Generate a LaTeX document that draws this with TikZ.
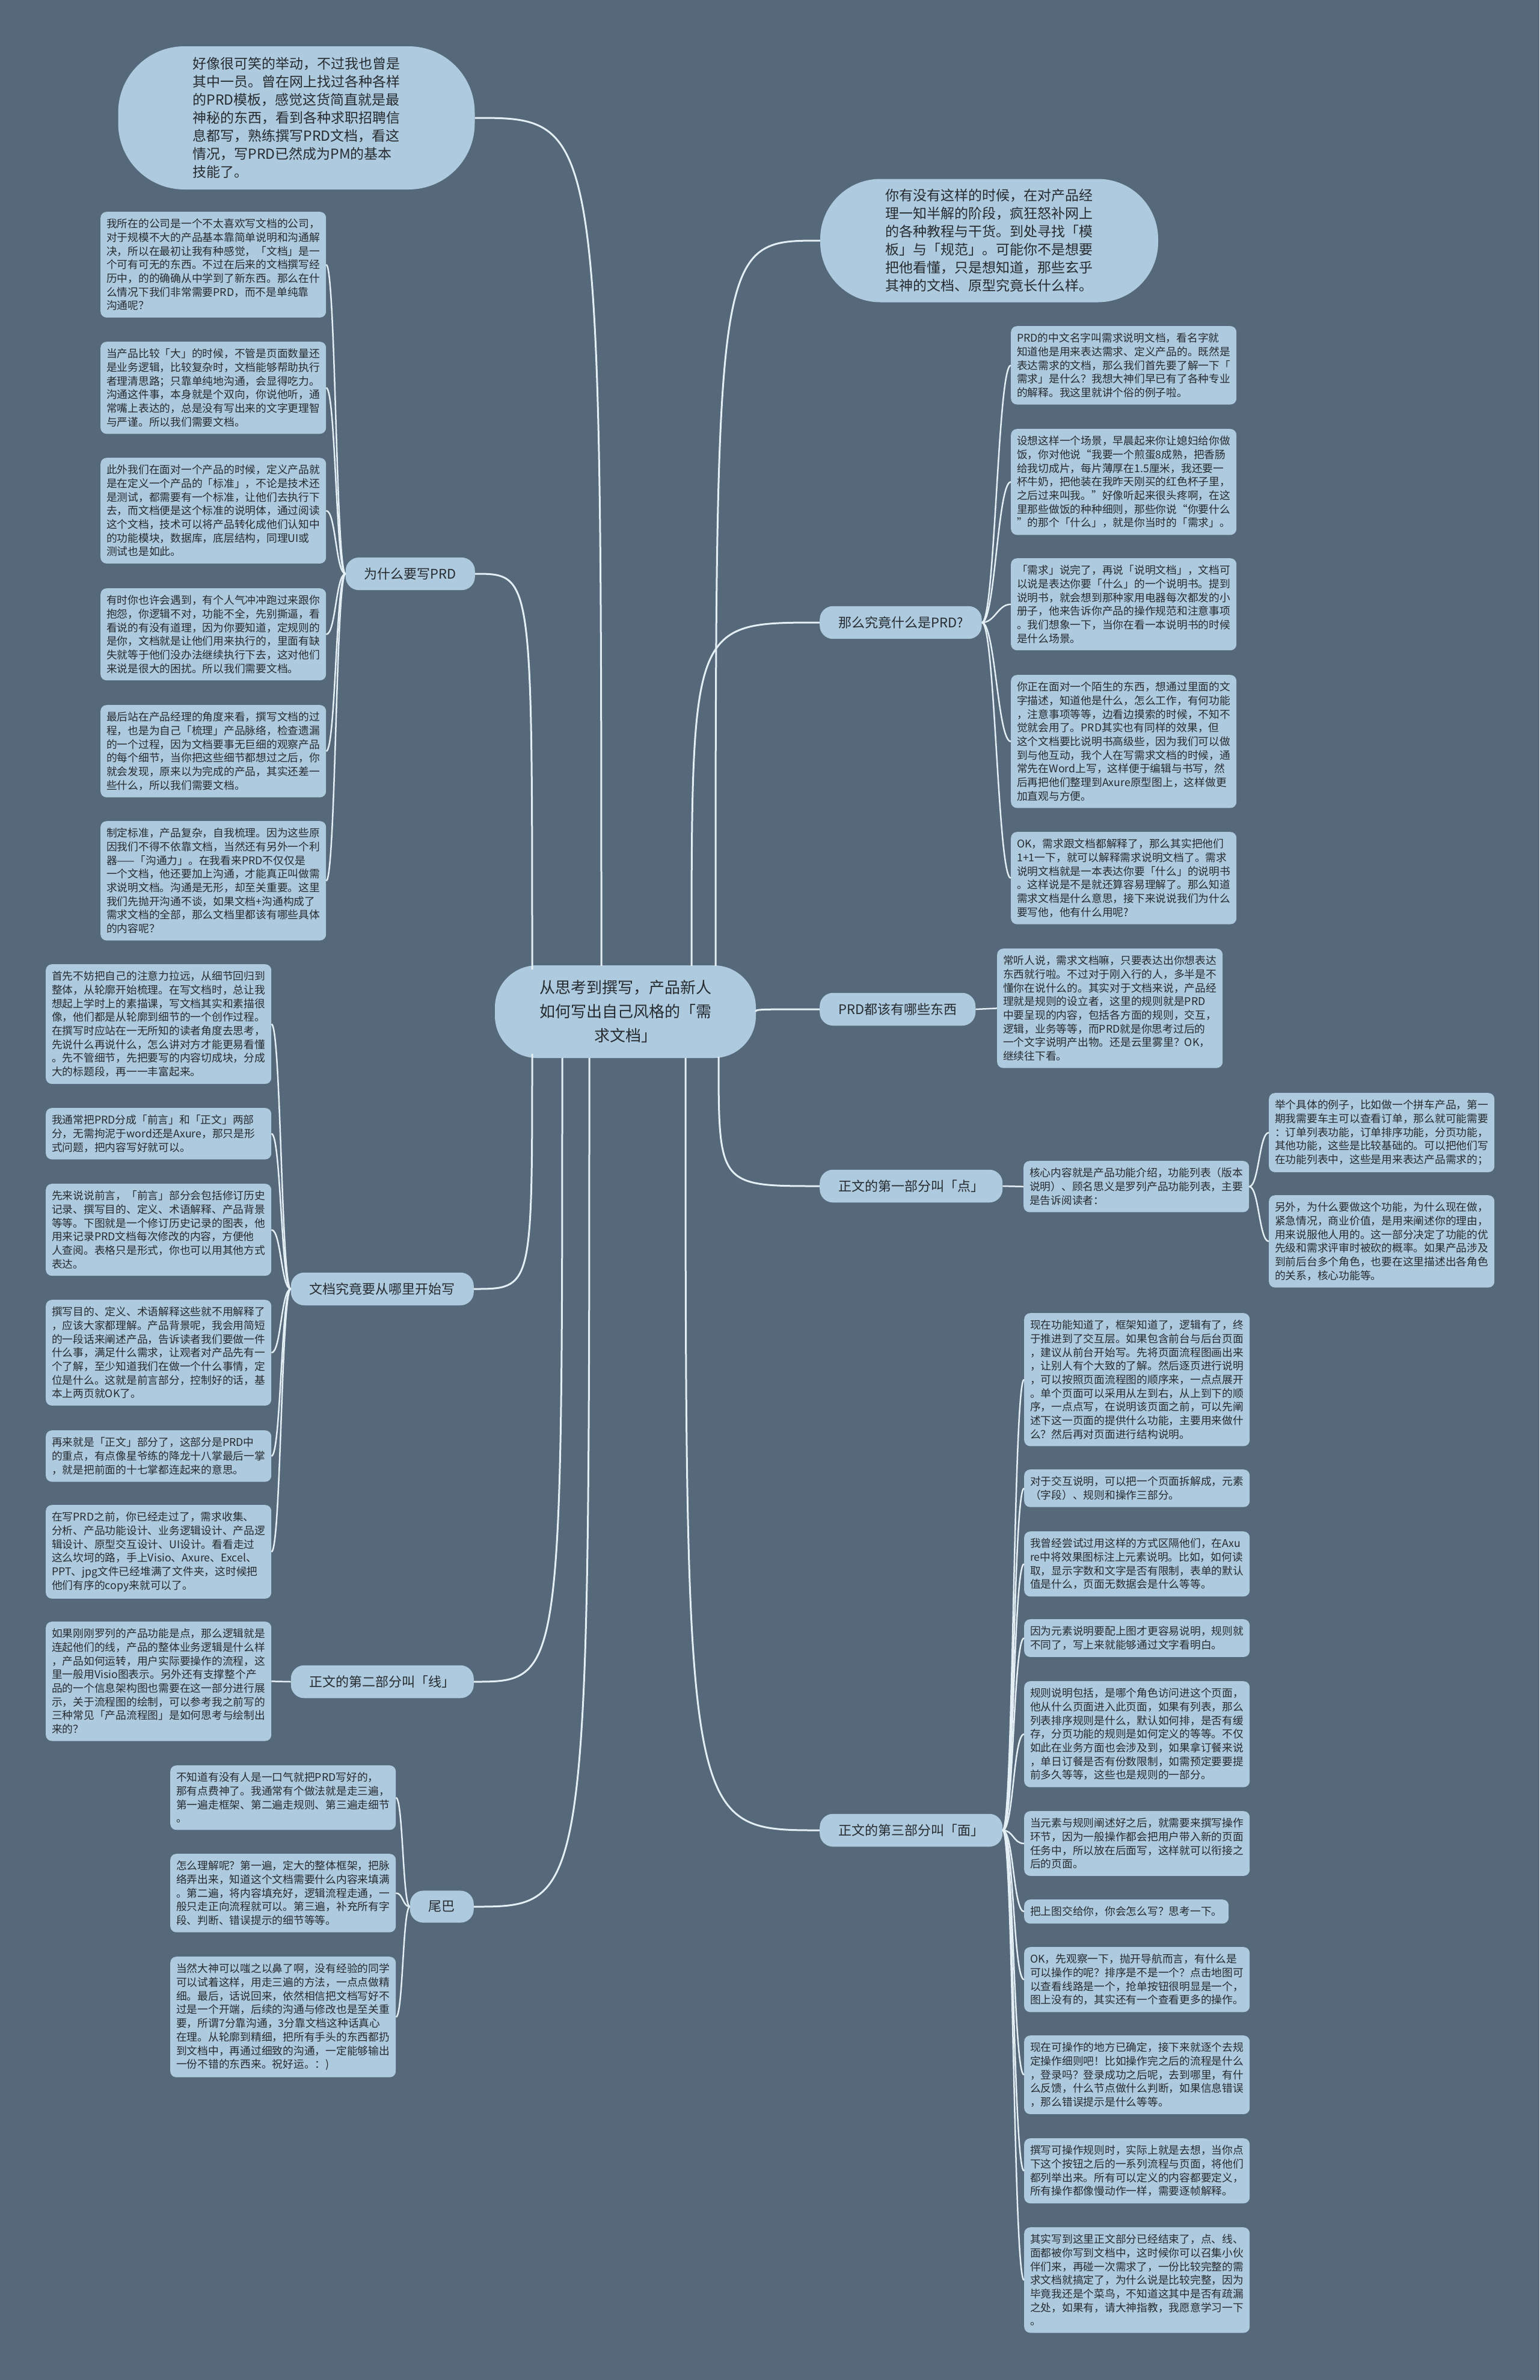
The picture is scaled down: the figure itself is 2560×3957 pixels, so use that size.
\documentclass[tikz,border=0pt]{standalone}
\usepackage{fontspec}
\setmainfont{Noto Sans CJK SC}
\definecolor{bgblue}{HTML}{55697A}
\definecolor{boxblue}{HTML}{AECADF}
\definecolor{linkwhite}{HTML}{E4EEF5}
\definecolor{inkgray}{HTML}{262B30}
\begin{document}
\begin{tikzpicture}[x=1pt,y=-1pt,
      leafbox/.style={fill=boxblue,text=inkgray,rounded corners=10pt,%
        anchor=north west,text width=355pt,align=left,%
        inner xsep=10pt,inner ysep=11.5pt,%
        font=\fontsize{17.75}{22.7}\selectfont},%
      branchbox/.style={fill=boxblue,text=inkgray,rounded corners=22pt,%
        inner xsep=31pt,inner ysep=17pt,font=\fontsize{22}{26}\selectfont},%
      bubblebox/.style={fill=boxblue,text=inkgray,text width=345pt,%
        align=left,font=\fontsize{23}{30}\selectfont},%
      rootbox/.style={fill=boxblue,text=inkgray,rounded corners=70pt,%
        minimum width=434pt,minimum height=154pt,text width=300pt,%
        align=center,font=\fontsize{26}{40}\selectfont},%
      wire/.style={draw=linkwhite,line width=2.5pt},%
      trunk/.style={draw=linkwhite,line width=3pt},%
      lnkR/.style={to path={.. controls +(#1,0) and +(-#1,0) .. (\tikztotarget)}},%
      lnkL/.style={to path={.. controls +(-#1,0) and +(#1,0) .. (\tikztotarget)}},%
      rlnk/.style={to path={.. controls (\tikztostart |- \tikztotarget)
          and (\tikztostart |- \tikztotarget) .. (\tikztotarget)}}%
      ]
      \useasboundingbox (0,0) rectangle (2560,3957);
      \fill[bgblue] (0,0) rectangle (2560,3957);
      %% create nodes
      \node[rootbox] (root) at (1040,1682) {从思考到撰写，产品新人\\如何写出自己风格的「需\\求文档」};%
      \node[bubblebox,minimum width=593pt,minimum height=238pt,rounded corners=110pt] (bubL) at (493,196)
      {好像很可笑的举动，不过我也曾是\\其中一员。曾在网上找过各种各样\\的PRD模板，感觉这货简直就是最\\神秘的东西，看到各种求职招聘信\\息都写，熟练撰写PRD文档，看这\\情况，写PRD已然成为PM的基本\\技能了。};%
      \node[bubblebox,minimum width=562pt,minimum height=205pt,rounded corners=100pt] (bubR) at (1645,400)
      {你有没有这样的时候，在对产品经\\理一知半解的阶段，疯狂怒补网上\\的各种教程与干货。到处寻找「模\\板」与「规范」。可能你不是想要\\把他看懂，只是想知道，那些玄乎\\其神的文档、原型究竟长什么样。};%
      %% branches
      \node[branchbox,anchor=east] (why) at (790,954) {为什么要写PRD};%
      \node[branchbox,anchor=east] (start) at (788,2143) {文档究竟要从哪里开始写};%
      \node[branchbox,anchor=east] (line) at (788,2796) {正文的第二部分叫「线」};%
      \node[branchbox,anchor=east] (tail) at (788,3170) {尾巴};%
      \node[branchbox,anchor=west] (what) at (1363,1035) {那么究竟什么是PRD?};%
      \node[branchbox,anchor=west] (have) at (1363,1678) {PRD都该有哪些东西};%
      \node[branchbox,anchor=west] (pt) at (1363,1972) {正文的第一部分叫「点」};%
      \node[branchbox,anchor=west] (face) at (1363,3043) {正文的第三部分叫「面」};%
      %% leaves, why
      \node[leafbox] (w1) at (167,352) {我所在的公司是一个不太喜欢写文档的公司，\\对于规模不大的产品基本靠简单说明和沟通解\\决，所以在最初让我有种感觉，「文档」是一\\个可有可无的东西。不过在后来的文档撰写经\\历中，的的确确从中学到了新东西。那么在什\\么情况下我们非常需要PRD，而不是单纯靠\\沟通呢？};%
      \node[leafbox] (w2) at (167,568) {当产品比较「大」的时候，不管是页面数量还\\是业务逻辑，比较复杂时，文档能够帮助执行\\者理清思路；只靠单纯地沟通，会显得吃力。\\沟通这件事，本身就是个双向，你说他听，通\\常嘴上表达的，总是没有写出来的文字更理智\\与严谨。所以我们需要文档。};%
      \node[leafbox] (w3) at (167,761) {此外我们在面对一个产品的时候，定义产品就\\是在定义一个产品的「标准」，不论是技术还\\是测试，都需要有一个标准，让他们去执行下\\去，而文档便是这个标准的说明体，通过阅读\\这个文档，技术可以将产品转化成他们认知中\\的功能模块，数据库，底层结构，同理UI或\\测试也是如此。};%
      \node[leafbox] (w4) at (167,978) {有时你也许会遇到，有个人气冲冲跑过来跟你\\抱怨，你逻辑不对，功能不全，先别撕逼，看\\看说的有没有道理，因为你要知道，定规则的\\是你，文档就是让他们用来执行的，里面有缺\\失就等于他们没办法继续执行下去，这对他们\\来说是很大的困扰。所以我们需要文档。};%
      \node[leafbox] (w5) at (167,1172) {最后站在产品经理的角度来看，撰写文档的过\\程，也是为自己「梳理」产品脉络，检查遗漏\\的一个过程，因为文档要事无巨细的观察产品\\的每个细节，当你把这些细节都想过之后，你\\就会发现，原来以为完成的产品，其实还差一\\些什么，所以我们需要文档。};%
      \node[leafbox] (w6) at (167,1365) {制定标准，产品复杂，自我梳理。因为这些原\\因我们不得不依靠文档，当然还有另外一个利\\器——「沟通力」。在我看来PRD不仅仅是\\一个文档，他还要加上沟通，才能真正叫做需\\求说明文档。沟通是无形，却至关重要。这里\\我们先抛开沟通不谈，如果文档+沟通构成了\\需求文档的全部，那么文档里都该有哪些具体\\的内容呢？};%
      %% leaves, what
      \node[leafbox] (p1) at (1681,542) {PRD的中文名字叫需求说明文档，看名字就\\知道他是用来表达需求、定义产品的。既然是\\表达需求的文档，那么我们首先要了解一下「\\需求」是什么？我想大神们早已有了各种专业\\的解释。我这里就讲个俗的例子啦。};%
      \node[leafbox] (p2) at (1681,713) {设想这样一个场景，早晨起来你让媳妇给你做\\饭，你对他说“我要一个煎蛋8成熟，把香肠\\给我切成片，每片薄厚在1.5厘米，我还要一\\杯牛奶，把他装在我昨天刚买的红色杯子里，\\之后过来叫我。”好像听起来很头疼啊，在这\\里那些做饭的种种细则，那些你说“你要什么\\”的那个「什么」，就是你当时的「需求」。};%
      \node[leafbox] (p3) at (1681,928) {「需求」说完了，再说「说明文档」，文档可\\以说是表达你要「什么」的一个说明书。提到\\说明书，就会想到那种家用电器每次都发的小\\册子，他来告诉你产品的操作规范和注意事项\\。我们想象一下，当你在看一本说明书的时候\\是什么场景。};%
      \node[leafbox] (p4) at (1681,1122) {你正在面对一个陌生的东西，想通过里面的文\\字描述，知道他是什么，怎么工作，有何功能\\，注意事项等等，边看边摸索的时候，不知不\\觉就会用了。PRD其实也有同样的效果，但\\这个文档要比说明书高级些，因为我们可以做\\到与他互动，我个人在写需求文档的时候，通\\常先在Word上写，这样便于编辑与书写，然\\后再把他们整理到Axure原型图上，这样做更\\加直观与方便。};%
      \node[leafbox] (p5) at (1681,1383) {OK，需求跟文档都解释了，那么其实把他们\\1+1一下，就可以解释需求说明文档了。需求\\说明文档就是一本表达你要「什么」的说明书\\。这样说是不是就还算容易理解了。那么知道\\需求文档是什么意思，接下来说说我们为什么\\要写他，他有什么用呢?};%
      %% leaves, have and pt
      \node[leafbox] (d1) at (1658,1577) {常听人说，需求文档嘛，只要表达出你想表达\\东西就行啦。不过对于刚入行的人，多半是不\\懂你在说什么的。其实对于文档来说，产品经\\理就是规则的设立者，这里的规则就是PRD\\中要呈现的内容，包括各方面的规则，交互，\\逻辑，业务等等，而PRD就是你思考过后的\\一个文字说明产出物。还是云里雾里？OK，\\继续往下看。};%
      \node[leafbox] (e1) at (1702,1930) {核心内容就是产品功能介绍，功能列表（版本\\说明）、顾名思义是罗列产品功能列表，主要\\是告诉阅读者：};%
      \node[leafbox] (e1a) at (2110,1817) {举个具体的例子，比如做一个拼车产品，第一\\期我需要车主可以查看订单，那么就可能需要\\：订单列表功能，订单排序功能，分页功能，\\其他功能，这些是比较基础的。可以把他们写\\在功能列表中，这些是用来表达产品需求的；};%
      \node[leafbox] (e1b) at (2110,1987) {另外，为什么要做这个功能，为什么现在做，\\紧急情况，商业价值，是用来阐述你的理由，\\用来说服他人用的。这一部分决定了功能的优\\先级和需求评审时被砍的概率。如果产品涉及\\到前后台多个角色，也要在这里描述出各角色\\的关系，核心功能等。};%
      %% leaves, start and line
      \node[leafbox] (s1) at (76,1603) {首先不妨把自己的注意力拉远，从细节回归到\\整体，从轮廓开始梳理。在写文档时，总让我\\想起上学时上的素描课，写文档其实和素描很\\像，他们都是从轮廓到细节的一个创作过程。\\在撰写时应站在一无所知的读者角度去思考，\\先说什么再说什么，怎么讲对方才能更易看懂\\。先不管细节，先把要写的内容切成块，分成\\大的标题段，再一一丰富起来。};%
      \node[leafbox] (s2) at (76,1842) {我通常把PRD分成「前言」和「正文」两部\\分，无需拘泥于word还是Axure，那只是形\\式问题，把内容写好就可以。};%
      \node[leafbox] (s3) at (76,1968) {先来说说前言，「前言」部分会包括修订历史\\记录、撰写目的、定义、术语解释、产品背景\\等等。下图就是一个修订历史记录的图表，他\\用来记录PRD文档每次修改的内容，方便他\\人查阅。表格只是形式，你也可以用其他方式\\表达。};%
      \node[leafbox] (s4) at (76,2161) {撰写目的、定义、术语解释这些就不用解释了\\，应该大家都理解。产品背景呢，我会用简短\\的一段话来阐述产品，告诉读者我们要做一件\\什么事，满足什么需求，让观者对产品先有一\\个了解，至少知道我们在做一个什么事情，定\\位是什么。这就是前言部分，控制好的话，基\\本上两页就OK了。};%
      \node[leafbox] (s5) at (76,2378) {再来就是「正文」部分了，这部分是PRD中\\的重点，有点像星爷练的降龙十八掌最后一掌\\，就是把前面的十七掌都连起来的意思。};%
      \node[leafbox] (s6) at (76,2502) {在写PRD之前，你已经走过了，需求收集、\\分析、产品功能设计、业务逻辑设计、产品逻\\辑设计、原型交互设计、UI设计。看看走过\\这么坎坷的路，手上Visio、Axure、Excel、\\PPT、jpg文件已经堆满了文件夹，这时候把\\他们有序的copy来就可以了。};%
      \node[leafbox] (l1) at (76,2696) {如果刚刚罗列的产品功能是点，那么逻辑就是\\连起他们的线，产品的整体业务逻辑是什么样\\，产品如何运转，用户实际要操作的流程，这\\里一般用Visio图表示。另外还有支撑整个产\\品的一个信息架构图也需要在这一部分进行展\\示，关于流程图的绘制，可以参考我之前写的\\三种常见「产品流程图」是如何思考与绘制出\\来的？};%
      %% leaves, tail
      \node[leafbox] (t1) at (283,2935) {不知道有没有人是一口气就把PRD写好的，\\那有点费神了。我通常有个做法就是走三遍，\\第一遍走框架、第二遍走规则、第三遍走细节\\。};%
      \node[leafbox] (t2) at (283,3082) {怎么理解呢？第一遍，定大的整体框架，把脉\\络弄出来，知道这个文档需要什么内容来填满\\。第二遍，将内容填充好，逻辑流程走通，一\\般只走正向流程就可以。第三遍，补充所有字\\段、判断、错误提示的细节等等。};%
      \node[leafbox] (t3) at (283,3253) {当然大神可以嗤之以鼻了啊，没有经验的同学\\可以试着这样，用走三遍的方法，一点点做精\\细。最后，话说回来，依然相信把文档写好不\\过是一个开端，后续的沟通与修改也是至关重\\要，所谓7分靠沟通，3分靠文档这种话真心\\在理。从轮廓到精细，把所有手头的东西都扔\\到文档中，再通过细致的沟通，一定能够输出\\一份不错的东西来。祝好运。：)};%
      %% leaves, face
      \node[leafbox] (f1) at (1703,2183) {现在功能知道了，框架知道了，逻辑有了，终\\于推进到了交互层。如果包含前台与后台页面\\，建议从前台开始写。先将页面流程图画出来\\，让别人有个大致的了解。然后逐页进行说明\\，可以按照页面流程图的顺序来，一点点展开\\。单个页面可以采用从左到右，从上到下的顺\\序，一点点写，在说明该页面之前，可以先阐\\述下这一页面的提供什么功能，主要用来做什\\么？然后再对页面进行结构说明。};%
      \node[leafbox] (f2) at (1703,2443) {对于交互说明，可以把一个页面拆解成，元素\\（字段）、规则和操作三部分。};%
      \node[leafbox] (f3) at (1703,2546) {我曾经尝试过用这样的方式区隔他们，在Axu\\re中将效果图标注上元素说明。比如，如何读\\取，显示字数和文字是否有限制，表单的默认\\值是什么，页面无数据会是什么等等。};%
      \node[leafbox] (f4) at (1703,2692) {因为元素说明要配上图才更容易说明，规则就\\不同了，写上来就能够通过文字看明白。};%
      \node[leafbox] (f5) at (1703,2795) {规则说明包括，是哪个角色访问进这个页面，\\他从什么页面进入此页面，如果有列表，那么\\列表排序规则是什么，默认如何排，是否有缓\\存，分页功能的规则是如何定义的等等。不仅\\如此在业务方面也会涉及到，如果拿订餐来说\\，单日订餐是否有份数限制，如需预定要要提\\前多久等等，这些也是规则的一部分。};%
      \node[leafbox] (f6) at (1703,3011) {当元素与规则阐述好之后，就需要来撰写操作\\环节，因为一般操作都会把用户带入新的页面\\任务中，所以放在后面写，这样就可以衔接之\\后的页面。};%
      \node[leafbox,text width=320pt] (f7) at (1703,3158) {把上图交给你，你会怎么写？思考一下。};%
      \node[leafbox] (f8) at (1703,3237) {OK，先观察一下，抛开导航而言，有什么是\\可以操作的呢？排序是不是一个？点击地图可\\以查看线路是一个，抢单按钮很明显是一个，\\图上没有的，其实还有一个查看更多的操作。};%
      \node[leafbox] (f9) at (1703,3384) {现在可操作的地方已确定，接下来就逐个去规\\定操作细则吧！比如操作完之后的流程是什么\\，登录吗？登录成功之后呢，去到哪里，有什\\么反馈，什么节点做什么判断，如果信息错误\\，那么错误提示是什么等等。};%
      \node[leafbox] (f10) at (1703,3555) {撰写可操作规则时，实际上就是去想，当你点\\下这个按钮之后的一系列流程与页面，将他们\\都列举出来。所有可以定义的内容都要定义，\\所有操作都像慢动作一样，需要逐帧解释。};%
      \node[leafbox] (f11) at (1703,3703) {其实写到这里正文部分已经结束了，点、线、\\面都被你写到文档中，这时候你可以召集小伙\\伴们来，再碰一次需求了，一份比较完整的需\\求文档就搞定了，为什么说是比较完整，因为\\毕竟我还是个菜鸟，不知道这其中是否有疏漏\\之处，如果有，请大神指教，我愿意学习一下\\。};%
      %% start points on the root
      \coordinate (rBL) at (1000,1606);%
      \coordinate (rWhy) at (885,1612);%
      \coordinate (rBR) at (1190,1606);%
      \coordinate (rWhat) at (1150,1606);%
      \coordinate (rHave) at (1257,1682);%
      \coordinate (rPt) at (1195,1757);%
      \coordinate (rFace) at (1140,1759);%
      \coordinate (rStart) at (885,1752);%
      \coordinate (rLine) at (935,1759);%
      \coordinate (rTail) at (980,1759);%
      %% draw lines from the root
      \foreach \a/\b in {rBL/bubL.east,rWhy/why.east,rStart/start.east,
        rLine/line.east,rTail/tail.east,rBR/bubR.west,rWhat/what.west,
        rHave/have.west,rPt/pt.west,rFace/face.west} {%
        \draw[trunk] (\a) to[rlnk] (\b);%
      }%
      %% draw lines to the leaves
      \foreach \x in {w1,w2,w3,w4,w5,w6} {%
        \draw[wire] (why.west) to[lnkL=16] (\x.east);%
      }%
      \foreach \x in {s1,s2,s3,s4,s5,s6} {%
        \draw[wire] (start.west) to[lnkL=16] (\x.east);%
      }%
      \foreach \x in {t1,t2,t3} {%
        \draw[wire] (tail.west) to[lnkL=12] (\x.east);%
      }%
      \draw[wire] (line.west) to[lnkL=16] (l1.east);%
      \foreach \x in {p1,p2,p3,p4,p5} {%
        \draw[wire] (what.east) to[lnkR=22] (\x.west);%
      }%
      \foreach \x in {f1,f2,f3,f4,f5,f6,f7,f8,f9,f10,f11} {%
        \draw[wire] (face.east) to[lnkR=18] (\x.west);%
      }%
      \draw[wire] (have.east) to[lnkR=18] (d1.west);%
      \draw[wire] (pt.east) to[lnkR=17] (e1.west);%
      \foreach \x in {e1a,e1b} {%
        \draw[wire] (e1.east) to[lnkR=16] (\x.west);%
      }%
    \end{tikzpicture}
\end{document}
